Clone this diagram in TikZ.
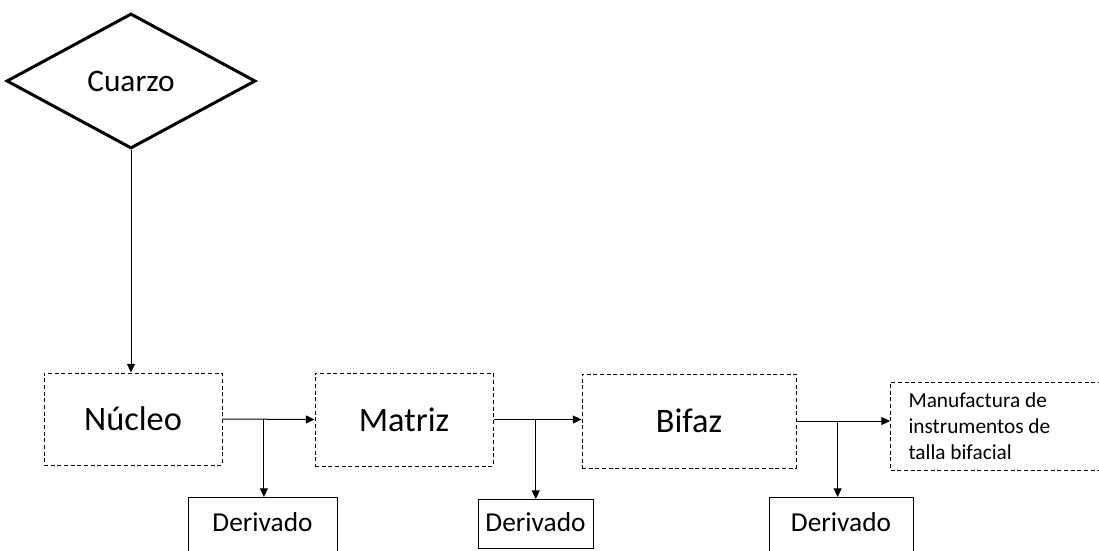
\documentclass[tikz,border=0pt]{standalone}
\usepackage{fontspec}
\setmainfont{Carlito}
\usetikzlibrary{shapes.geometric,arrows.meta}
\begin{document}
\begin{tikzpicture}[x=0.75pt,y=-0.75pt,
  stage/.style={draw, dash pattern=on 3pt off 2pt, line width=0.75pt, inner sep=0pt,
    font=\fontsize{25.75}{30}\selectfont},
  outbox/.style={draw, line width=0.75pt, inner xsep=0pt, inner ysep=11pt, anchor=north,
    font=\fontsize{20.5}{24}\selectfont},
  flow/.style={line width=0.75pt, -{Triangle[length=6.5pt,width=6pt]}},
  ]
\clip (0,0) rectangle (1099,550);

% raw material
\node[diamond, draw, line width=2.25pt, minimum width=186.75pt, minimum height=101.25pt,
  inner sep=0pt, font=\fontsize{23.5}{28}\selectfont] (cuarzo) at (131,81) {Cuarzo};

% reduction stages
\node[stage, minimum width=133.5pt, minimum height=69pt] (nucleo) at (133,419) {Núcleo};
\node[stage, minimum width=133.5pt, minimum height=69.75pt] (matriz) at (404,419.5) {Matriz\hspace{20pt}};
\node[stage, minimum width=160.5pt, minimum height=70.5pt] (bifaz) at (689,421) {Bifaz\hspace{20pt}};
\node[stage, font=\fontsize{16}{19.5}\selectfont, align=flush left, text width=134.25pt,
  inner xsep=13.5pt, minimum height=66pt, anchor=west] (manuf) at (890,426)
  {Manufactura de\\instrumentos de\\talla bifacial};

% by-products
\node[outbox, minimum width=111.75pt, text height=14.5pt, text depth=40pt] (der1) at (262.5,497) {Derivado};
\node[outbox, minimum width=86.25pt, text height=13pt, text depth=1.75pt] (der2) at (535.5,499) {Derivado};
\node[outbox, minimum width=108pt, text height=14.5pt, text depth=40pt] (der3) at (841,497) {Derivado};

% main sequence
\draw[flow] (cuarzo.south) -- (cuarzo.south |- nucleo.north);
\draw[flow] (nucleo.east) -- (matriz.west);
\draw[flow] (matriz.east) -- (matriz.east -| bifaz.west);
\draw[flow] (bifaz.east) -- (bifaz.east -| manuf.west);

% branches to by-products
\path (nucleo.east) -- (matriz.west) coordinate[pos=0.45] (j1);
\path (matriz.east) -- (matriz.east -| bifaz.west) coordinate[pos=0.48] (j2);
\path (bifaz.east) -- (bifaz.east -| manuf.west) coordinate[pos=0.44] (j3);
\draw[flow] (j1) -- (j1 |- der1.north);
\draw[flow] (j2) -- (j2 |- der2.north);
\draw[flow] (j3) -- (j3 |- der3.north);
\end{tikzpicture}
\end{document}
